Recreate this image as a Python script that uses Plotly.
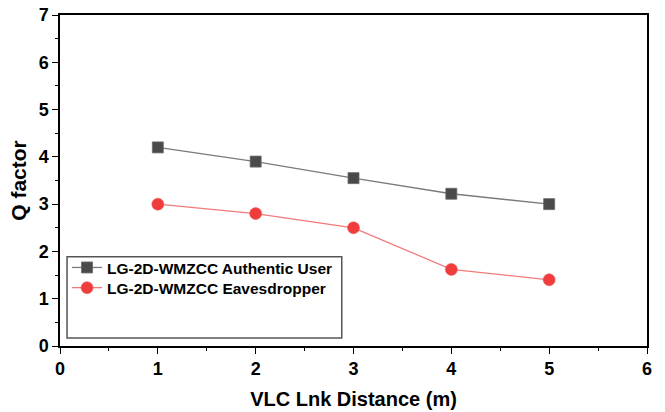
import plotly.graph_objects as go

# Link distance (m) and Q factor for both receivers
distance = [1, 2, 3, 4, 5]
q_authentic = [4.2, 3.9, 3.55, 3.22, 3.0]
q_eavesdropper = [3.0, 2.8, 2.5, 1.62, 1.4]

series_names = ["LG-2D-WMZCC Authentic User", "LG-2D-WMZCC Eavesdropper"]
x_ticks = [0, 1, 2, 3, 4, 5, 6]
y_ticks = [0, 1, 2, 3, 4, 5, 6, 7]

FONT = "Liberation Sans, Arial, sans-serif"

fig = go.Figure()
fig.add_trace(go.Scatter(
    x=distance, y=q_authentic, name=series_names[0], mode="lines+markers",
    line=dict(color="#7a7a7a", width=1.3),
    marker=dict(symbol="square", size=11, color="#4a4a4a",
                line=dict(color="#6a6a6a", width=0.8)),
    legend="legend", showlegend=True,
))
fig.add_trace(go.Scatter(
    x=distance, y=q_eavesdropper, name=series_names[1], mode="lines+markers",
    line=dict(color="#f37a7a", width=1.3),
    marker=dict(symbol="circle", size=12, color="#f03c3c",
                line=dict(color="#f05a5a", width=0.6)),
    legend="legend2", showlegend=True,
))

axis_common = dict(
    showline=True, linecolor="black", linewidth=1.5, mirror=True,
    ticks="outside", ticklen=6, tickwidth=1.3, tickcolor="black",
    showgrid=False, zeroline=False, automargin=False,
    tickfont=dict(family=FONT, size=18, color="black", weight="bold"),
    minor=dict(ticks="outside", ticklen=3, tickwidth=1.2, tickcolor="black", dtick=0.5),
)

fig.update_xaxes(
    range=[0, 6], tickvals=x_ticks, ticktext=[str(v) for v in x_ticks],
    title=dict(text="VLC Lnk Distance (m)",
               font=dict(family=FONT, size=20, color="black", weight="bold"), standoff=14),
    **axis_common,
)
fig.update_yaxes(
    range=[0, 7], tickvals=y_ticks, ticktext=[str(v) for v in y_ticks],
    title=dict(text="Q factor",
               font=dict(family=FONT, size=21, color="black", weight="bold"), standoff=6),
    **axis_common,
)

# Legend frame drawn separately so it can be taller than its two entries
fig.add_shape(type="rect", xref="paper", yref="paper",
              x0=0.012, x1=0.48, y0=0.024, y1=0.27,
              line=dict(color="#555555", width=1.5), fillcolor="rgba(0,0,0,0)")

legend_style = dict(xanchor="left", yanchor="middle", visible=True,
                    bgcolor="rgba(0,0,0,0)", borderwidth=0,
                    font=dict(family=FONT, size=15.5, color="black", weight="bold"),
                    itemwidth=30)

fig.update_layout(
    width=665, height=412,
    margin=dict(l=60, r=18, t=15, b=66),
    plot_bgcolor="white", paper_bgcolor="white",
    showlegend=True,
    legend=dict(x=0.012, y=0.236, **legend_style),
    legend2=dict(x=0.012, y=0.175, **legend_style),
)

fig.write_html("out.html")
